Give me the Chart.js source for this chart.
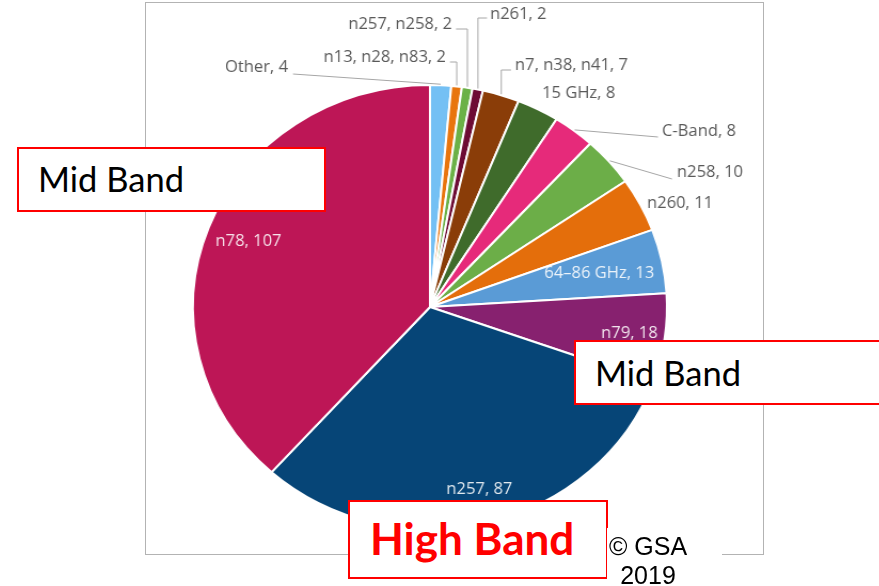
<!DOCTYPE html>
<html>
<head>
<meta charset="utf-8">
<script src="https://cdn.jsdelivr.net/npm/chart.js@4"></script>
<style>
  html, body { margin: 0; padding: 0; background: #fff; }
  #page { position: relative; width: 879px; height: 586px; overflow: hidden; background: #fff; }
  #frame { position: absolute; left: 145px; top: 2px; width: 617px; height: 551px; border: 1.5px solid #b3b3b3; }
  #pie { position: absolute; left: 0; top: 0; transform-origin: 430px 307px; transform: scaleX(1.0676); }
  .box { position: absolute; background: #fff; border: 2px solid #ff0000; box-sizing: border-box; }
  .mid { font-family: Lato, sans-serif; font-size: 34.5px; color: #000; line-height: 1; }
  #mid1 { left: 17px; top: 147px; width: 309px; height: 65px; }
  #mid1 span { position: absolute; left: 19px; top: 13px; }
  #mid2 { left: 574px; top: 340px; width: 320px; height: 65px; }
  #mid2 span { position: absolute; left: 19px; top: 14px; }
  #high { left: 348px; top: 500px; width: 260px; height: 79px; }
  #high span { position: absolute; left: 20px; top: 14px; font-family: Lato, sans-serif; font-weight: bold;
               font-size: 44px; color: #ff0000; line-height: 1; }
  #gsa { position: absolute; left: 607px; top: 528px; width: 115px; height: 60px; background: #fff; }
  #gsa div { position: absolute; left: 0; width: 82px; text-align: center; font-family: "Liberation Sans", Arial, sans-serif;
             font-size: 25px; color: #000; line-height: 1; }
</style>
</head>
<body>
<div id="page">
  <div id="frame"></div>
  <canvas id="pie" width="879" height="586"></canvas>
  <div class="box" id="mid1"><span class="mid">Mid Band</span></div>
  <div class="box" id="mid2"><span class="mid">Mid Band</span></div>
  <div class="box" id="high"><span>High Band</span></div>
  <div id="gsa"><div style="top:6px">© GSA</div><div style="top:35px">2019</div></div>
</div>
<script>
// bands, clockwise from 12 o'clock
var bands = ['Other', 'n13, n28, n83', 'n257, n258', 'n261', 'n7, n38, n41', '15 GHz', 'C-Band',
             'n258', 'n260', '64\u201386 GHz', 'n79', 'n257', 'n78'];
var counts = [4, 2, 2, 2, 7, 8, 8, 10, 11, 13, 18, 87, 107];
var colours = ['#74c0f4', '#e8750e', '#6bb147', '#6d0b34', '#8a3d08', '#3f6b2b', '#e62a7a',
               '#6cae48', '#e46e0b', '#5a9bd6', '#87216f', '#064577', '#bd1656'];

// the picture is a bit wider than tall, so the canvas gets stretched sideways by CSS
var SX = 1.0676;
var CX = 430;

// where each label goes (page pixels). 'in' labels sit on the slice at a fraction of the radius
var labelLayout = [
    {mode: 'line', tx: 288, ty: 68, align: 'right', end: [293, 74]},
    {mode: 'elbow', tx: 446, ty: 58, align: 'right', elbowY: 62, endX: 450},
    {mode: 'elbow', tx: 452, ty: 25, align: 'right', elbowY: 29, endX: 456},
    {mode: 'elbow', tx: 490, ty: 15, align: 'left', elbowY: 18, endX: 487},
    {mode: 'elbow', tx: 515, ty: 66, align: 'left', elbowY: 70, endX: 511},
    {mode: 'free', tx: 542, ty: 94, align: 'left'},
    {mode: 'line', tx: 662, ty: 132, align: 'left', end: [658, 137]},
    {mode: 'line', tx: 677, ty: 173, align: 'left', end: [672, 179]},
    {mode: 'free', tx: 647, ty: 204, align: 'left'},
    {mode: 'in', r: 0.73},
    {mode: 'in', r: 0.85},
    {mode: 'in', r: 0.85},
    {mode: 'in', r: 0.82}
];

function toCanvasX(x) {
    return CX + (x - CX) / SX;
}

var sliceLabels = {
    id: 'sliceLabels',
    afterDatasetsDraw: function(chart) {
        var ctx = chart.ctx;
        var arcs = chart.getDatasetMeta(0).data;
        ctx.save();
        ctx.font = '15.5px "Open Sans", sans-serif';
        ctx.textBaseline = 'middle';
        ctx.lineWidth = 1;
        ctx.strokeStyle = '#a6a6a6';
        arcs.forEach(function(arc, i) {
            var p = arc.getProps(['startAngle', 'endAngle', 'outerRadius', 'x', 'y'], true);
            var mid = (p.startAngle + p.endAngle) / 2;
            var text = bands[i] + ', ' + counts[i];
            var lay = labelLayout[i];
            if (lay.mode == 'in') {
                var r = p.outerRadius * lay.r;
                ctx.fillStyle = 'rgba(255,255,255,0.88)';
                ctx.textAlign = 'center';
                ctx.fillText(text, p.x + r * Math.cos(mid), p.y + r * Math.sin(mid));
                return;
            }
            var ex = p.x + (p.outerRadius + 1) * Math.cos(mid);
            var ey = p.y + (p.outerRadius + 1) * Math.sin(mid);
            if (lay.mode == 'line') {
                ctx.beginPath();
                ctx.moveTo(ex, ey);
                ctx.lineTo(toCanvasX(lay.end[0]), lay.end[1]);
                ctx.stroke();
            } else if (lay.mode == 'elbow') {
                ctx.beginPath();
                ctx.moveTo(ex, ey);
                ctx.lineTo(ex, lay.elbowY);
                ctx.lineTo(toCanvasX(lay.endX), lay.elbowY);
                ctx.stroke();
            }
            ctx.fillStyle = '#595959';
            ctx.textAlign = lay.align;
            ctx.fillText(text, toCanvasX(lay.tx), lay.ty);
        });
        ctx.restore();
    }
};

var ctx = document.getElementById('pie').getContext('2d');
new Chart(ctx, {
    type: 'pie',
    data: {
        labels: bands,
        datasets: [{
            data: counts,
            backgroundColor: colours,
            borderColor: '#ffffff',
            borderWidth: 2,
            hoverOffset: 0
        }]
    },
    options: {
        responsive: false,
        animation: false,
        events: [],
        layout: {padding: {left: 207, right: 226, top: 84, bottom: 56}},
        plugins: {legend: {display: false}, tooltip: {enabled: false}}
    },
    plugins: [sliceLabels]
});
</script>
</body>
</html>
